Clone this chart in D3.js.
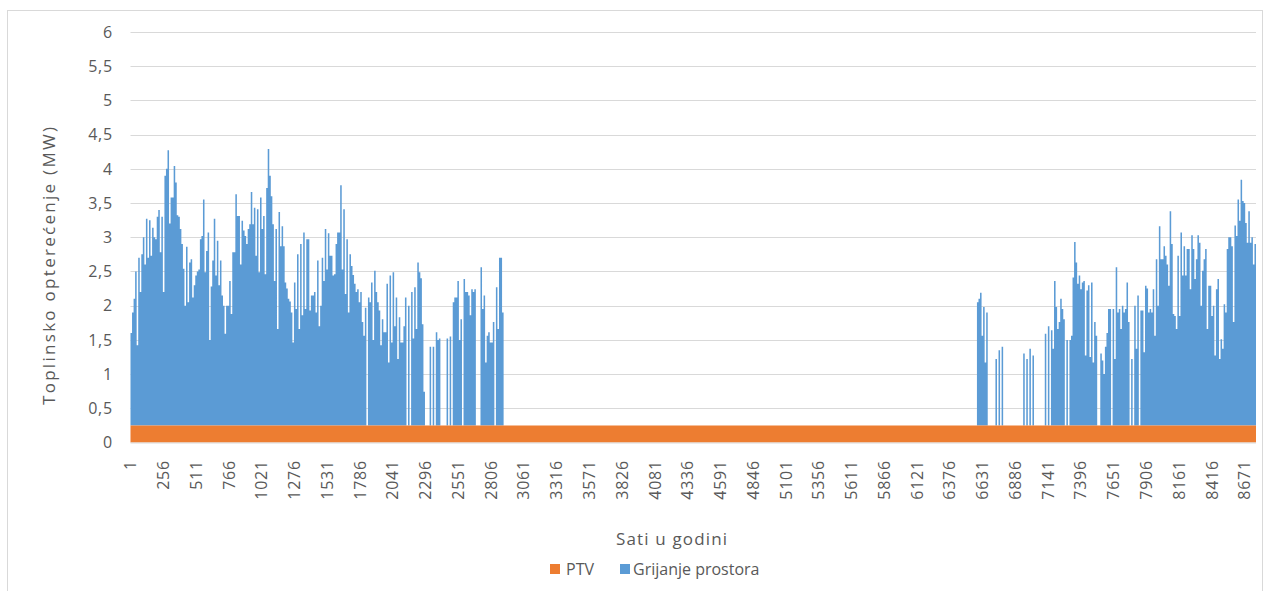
<!DOCTYPE html>
<html>
<head>
<meta charset="utf-8">
<script src="https://cdn.jsdelivr.net/npm/d3@7"></script>
<style>
  html, body { margin: 0; padding: 0; background: #fff; }
  svg { display: block; }
  text { font-family: "Open Sans", "Noto Sans", sans-serif; fill: #595959; }
</style>
</head>
<body>
<svg id="chart" width="1266" height="591"></svg>
<script>
// ---------------- DATA ----------------
const seriesNames = ["PTV", "Grijanje prostora"];
const seriesColors = ["#ED7D31", "#5B9BD5"];
const totalHours = 8760;
const blockHours = 12;            // values, one per 12 hours
const ptvLoad = 0.25;             // MW, constant domestic hot water load
const xTickLabels = [1, 256, 511, 766, 1021, 1276, 1531, 1786, 2041, 2296, 2551, 2806, 3061, 3316, 3571,
  3826, 4081, 4336, 4591, 4846, 5101, 5356, 5611, 5866, 6121, 6376, 6631, 6886, 7141, 7396, 7651,
  7906, 8161, 8416, 8671];
const yTickValues = [0, 0.5, 1, 1.5, 2, 2.5, 3, 3.5, 4, 4.5, 5, 5.5, 6];

// Space heating (MW above PTV), winter season from hour 1
const heatingWinterStartHour = 1;
const heatingWinter = [
  1.35, 1.65, 1.85, 2.25, 1.17, 2.45, 1.95, 2.5, 2.75, 2.35,
  3.02, 2.45, 3.0, 2.48, 2.89, 2.75, 2.72, 3.05, 3.15, 2.53,
  3.05, 1.95, 3.65, 3.75, 4.02, 2.95, 3.33, 3.33, 3.79, 3.55,
  3.07, 3.05, 2.87, 2.65, 2.29, 1.75, 2.61, 1.8, 2.38, 2.43,
  1.87, 2.05, 2.19, 2.25, 2.28, 2.72, 2.77, 3.3, 2.24, 2.55,
  2.82, 1.25, 2.03, 2.41, 3.02, 2.19, 2.7, 2.05, 2.41, 1.9,
  1.75, 1.34, 1.75, 1.75, 2.11, 1.63, 2.53, 2.53, 3.38, 3.06,
  3.06, 2.35, 2.99, 2.85, 2.77, 2.65, 2.87, 2.94, 3.41, 2.94,
  3.18, 2.48, 3.16, 2.24, 3.33, 2.87, 3.06, 2.21, 3.47, 4.04,
  3.65, 3.35, 2.94, 2.11, 2.87, 1.41, 3.12, 2.62, 2.91, 2.62,
  2.09, 2.0, 1.85, 1.81, 1.65, 1.21, 2.09, 1.7, 2.5, 1.41,
  2.65, 1.61, 2.82, 1.7, 2.72, 2.72, 1.68, 1.9, 1.9, 1.95,
  1.65, 2.41, 1.45, 1.75, 2.45, 2.11, 2.87, 2.28, 2.81, 2.48,
  2.48, 2.19, 2.21, 2.65, 2.82, 2.82, 3.51, 2.28, 3.16, 1.92,
  2.72, 1.65, 2.5, 2.33, 2.2, 2.07, 1.95, 1.99, 1.8, 1.95,
  1.51, 1.31, 1.72, 0, 1.87, 1.8, 2.09, 1.25, 2.26, 1.95,
  1.8, 1.68, 1.17, 1.55, 1.36, 1.36, 2.07, 0.92, 2.19, 1.21,
  2.24, 1.45, 1.87, 0.97, 1.58, 1.21, 1.21, 1.45, 1.87, 0,
  1.75, 0, 1.95, 1.27, 2.02, 1.41, 2.38, 2.24, 2.15, 1.48,
  0.49, 0, 0, 0, 1.15, 0, 1.15, 0, 1.36, 1.25,
  1.27, 0, 0, 0, 0, 1.27, 0, 1.3, 0, 1.8,
  1.87, 1.87, 2.11, 1.25, 1.55, 0, 2.14, 1.95, 1.95, 1.9,
  1.61, 1.99, 1.95, 1.99, 0, 0, 0, 2.31, 1.7, 1.9,
  0.92, 1.31, 1.36, 1.21, 1.21, 1.51, 0, 2.02, 1.41, 2.45,
  2.45, 1.65
];

// Space heating (MW above PTV), autumn/winter season
const heatingAutumnStartHour = 6589;
const heatingAutumn = [
  1.8, 1.85, 1.94, 1.31, 1.73, 0.92, 1.65, 0, 0, 0,
  0, 0, 0.97, 0, 1.1, 0, 1.15, 0, 0, 0,
  0, 0, 0, 0, 0, 0, 0, 0, 0, 0,
  1.05, 0, 0.97, 0, 1.12, 0, 1.02, 0, 0, 0,
  0, 0, 0, 0, 1.34, 0, 1.45, 0, 1.39, 1.12,
  2.11, 1.73, 1.41, 1.51, 1.85, 1.7, 1.55, 0, 1.25, 0,
  1.25, 1.31, 2.16, 2.68, 2.38, 2.07, 2.19, 1.99, 2.09, 2.11,
  1.02, 1.97, 2.05, 1.0, 2.09, 0.92, 1.51, 1.31, 0, 0,
  1.05, 0.95, 0.75, 1.15, 1.35, 1.7, 1.7, 0, 1.7, 0.97,
  2.31, 1.65, 1.7, 1.41, 1.75, 1.65, 1.7, 2.09, 1.51, 0,
  0.97, 0, 1.75, 1.12, 1.9, 0, 1.68, 1.68, 1.07, 2.04,
  2.0, 1.65, 1.7, 1.65, 1.99, 1.31, 2.43, 1.75, 2.91, 2.43,
  2.43, 2.62, 2.48, 2.35, 2.04, 3.13, 2.65, 1.63, 1.6, 1.41,
  2.48, 1.6, 2.82, 2.19, 2.62, 2.19, 2.58, 2.58, 1.99, 2.78,
  2.58, 2.14, 2.43, 2.78, 2.67, 1.75, 2.26, 2.43, 2.58, 1.41,
  2.04, 2.04, 1.6, 1.75, 1.02, 1.99, 2.14, 0.97, 1.26, 1.12,
  1.77, 1.65, 2.58, 2.75, 2.75, 2.62, 1.51, 2.92, 2.77, 3.3,
  2.99, 3.59, 3.28, 3.25, 2.96, 2.67, 3.13, 2.67, 2.75, 2.35,
  2.65
];

// ---------------- BUILD ----------------
const nBlocks = totalHours / blockHours;
const heatingBlocks = new Array(nBlocks).fill(0);
const w0 = (heatingWinterStartHour - 1) / blockHours;
heatingWinter.forEach((v, i) => { heatingBlocks[w0 + i] = v; });
const a0 = (heatingAutumnStartHour - 1) / blockHours;
heatingAutumn.forEach((v, i) => { heatingBlocks[a0 + i] = v; });

const pts = heatingBlocks.map((v, i) => ({ h: i * blockHours + 0.5, v }));
pts.push({ h: totalHours + 0.5, v: heatingBlocks[nBlocks - 1] });

const svg = d3.select("#chart");

svg.append("rect")
  .attr("x", 7.5).attr("y", 10.5).attr("width", 1255).attr("height", 600)
  .attr("fill", "#fff").attr("stroke", "#d9d9d9").attr("stroke-width", 1);

const x = d3.scaleLinear().domain([0.5, totalHours + 0.5]).range([130.5, 1256]);
const y = d3.scaleLinear().domain([0, 6]).range([442.5, 32]);

// gridlines
svg.append("g").selectAll("line").data(yTickValues.filter(d => d > 0)).join("line")
  .attr("x1", x.range()[0]).attr("x2", x.range()[1])
  .attr("y1", d => Math.round(y(d)) + 0.5).attr("y2", d => Math.round(y(d)) + 0.5)
  .attr("stroke", "#d9d9d9").attr("stroke-width", 1);

// y tick labels
const fmt = d => String(d).replace(".", ",");
svg.append("g").selectAll("text").data(yTickValues).join("text")
  .attr("x", 113).attr("y", d => y(d)).attr("dy", "0.36em")
  .attr("text-anchor", "end").style("font-size", "16px").style("letter-spacing", "0.8px")
  .text(fmt);

// heating (stacked on PTV)
const area = d3.area()
  .x(d => x(d.h))
  .y0(y(ptvLoad))
  .y1(d => y(ptvLoad + d.v))
  .curve(d3.curveStepAfter);
svg.append("path").datum(pts).attr("d", area).attr("fill", seriesColors[1]);

// PTV
const ptvArea = d3.area().x(d => x(d.h)).y0(y(0)).y1(y(ptvLoad)).curve(d3.curveStepAfter);
svg.append("path").datum(pts).attr("d", ptvArea).attr("fill", seriesColors[0]);

// x axis line
svg.append("line").attr("x1", x.range()[0]).attr("x2", x.range()[1])
  .attr("y1", 443).attr("y2", 443).attr("stroke", "#d9d9d9");

// x tick labels
svg.append("g").selectAll("text").data(xTickLabels).join("text")
  .attr("transform", d => `translate(${x(d)},460) rotate(-90)`)
  .attr("dy", "0.36em").attr("text-anchor", "end")
  .style("font-size", "16px").style("letter-spacing", "0.8px")
  .text(d => d);

// axis titles
svg.append("text")
  .attr("transform", "translate(55,266) rotate(-90)")
  .attr("text-anchor", "middle").style("font-size", "17px")
  .attr("textLength", 278).attr("lengthAdjust", "spacing")
  .text("Toplinsko opterećenje (MW)");

svg.append("text")
  .attr("x", 671.5).attr("y", 545).attr("text-anchor", "middle")
  .style("font-size", "17px").attr("textLength", 111).attr("lengthAdjust", "spacing")
  .text("Sati u godini");

// legend
const legendItems = [
  { name: seriesNames[0], color: seriesColors[0], sx: 550, tx: 566 },
  { name: seriesNames[1], color: seriesColors[1], sx: 620, tx: 633 }
];
const lg = svg.append("g");
lg.selectAll("rect").data(legendItems).join("rect")
  .attr("x", d => d.sx).attr("y", 564).attr("width", 10).attr("height", 10)
  .attr("fill", d => d.color);
lg.selectAll("text").data(legendItems).join("text")
  .attr("x", d => d.tx).attr("y", 575).style("font-size", "16px")
  .text(d => d.name);
</script>
</body>
</html>
